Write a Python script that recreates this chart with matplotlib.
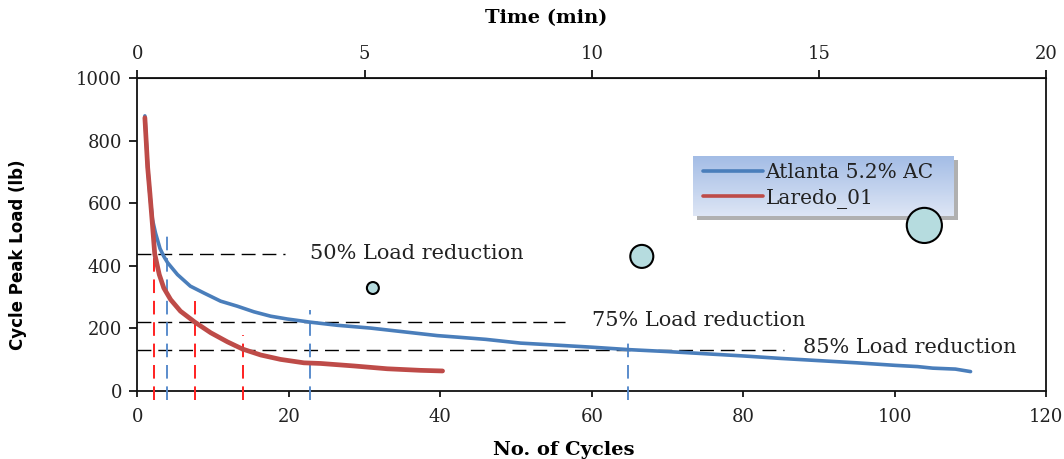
import matplotlib
matplotlib.use("Agg")
import matplotlib.pyplot as plt
import numpy as np

# ---------------- data ----------------
cyc_atl = [1.0, 1.37, 1.68, 2.0, 2.4, 3.0, 3.5, 4.0, 5.3, 7.0, 8.8, 11.0, 13.2,
           15.4, 17.6, 19.8, 22.8, 26.4, 30.8, 35.2, 39.6, 42.3, 46.0, 50.6,
           55.0, 60.0, 65.0, 70.0, 75.0, 80.0, 85.0, 90.0, 95.0, 100.0, 103.0,
           105.0, 108.0, 110.0]
load_atl = [879, 716, 622, 548, 505, 455, 430, 410, 372, 335, 313, 287, 271,
            253, 239, 230, 220, 210, 201, 189, 177, 172, 165, 153,
            147, 140, 132, 126, 119, 112, 104, 97, 90, 82, 78,
            73, 70, 62]

cyc_lar = [1.0, 1.37, 1.67, 2.0, 2.3, 2.9, 3.5, 4.4, 5.7, 7.6, 9.7, 11.9, 13.9,
           16.3, 18.9, 22.0, 24.2, 28.6, 33.0, 37.4, 40.3]
load_lar = [873, 714, 630, 531, 438, 372, 329, 292, 255, 220, 186, 157, 134,
            115, 101, 90, 88, 80, 71, 66, 64]

# reference (load-reduction) levels
ref_levels = [437, 219, 132]
ref_ends = [19.5, 56.5, 85.4]
ref_labels = ["50% Load reduction", "75% Load reduction", "85% Load reduction"]
ref_label_x = [22.8, 60.0, 87.9]
ref_label_y = [440, 224, 138]

# vertical markers (cycle at which reduction is reached)
vline_x = [2.2, 3.9, 7.6, 13.9, 22.8, 64.8]
vline_top = [522, 515, 289, 178, 260, 169]
vline_series = ["lar", "atl", "lar", "lar", "atl", "atl"]

# bubbles
bub_x = [31.1, 66.6, 103.9]
bub_y = [329, 430, 529]
bub_size = [74, 275, 640]

x_ticks = [0, 20, 40, 60, 80, 100, 120]
y_ticks = [0, 200, 400, 600, 800, 1000]
t_ticks = [0, 5, 10, 15, 20]

# ---------------- style ----------------
BLUE = "#4a7ebb"
RED = "#be4b48"
VRED = "#ff2020"
VBLUE = "#5a8ccc"
SERIF = "DejaVu Serif"
TXT = "#222222"

W, H = 1064, 459
fig = plt.figure(figsize=(W / 100, H / 100), dpi=100, facecolor="white")

# legend background (gradient box with shadow), drawn beneath the main axes
lx0, lx1, ly0, ly1 = 693, 954, 156, 216
sh = fig.add_axes([(lx0 + 4) / W, 1 - (ly1 + 4) / H, (lx1 - lx0) / W,
                   (ly1 - ly0) / H], zorder=-2)
sh.set_facecolor("#b0b0b0")
sh.set_xticks([])
sh.set_yticks([])
for sp in sh.spines.values():
    sp.set_visible(False)

lax = fig.add_axes([lx0 / W, 1 - ly1 / H, (lx1 - lx0) / W, (ly1 - ly0) / H],
                   zorder=-1)
top = np.array([0.64, 0.74, 0.90])
bot = np.array([0.87, 0.90, 0.96])
g = np.linspace(0, 1, 64)[:, None]
grad = top[None, :] * (1 - g) + bot[None, :] * g
lax.imshow(grad[:, None, :].repeat(2, axis=1), aspect="auto",
           extent=[0, 1, 0, 1], origin="upper")
lax.set_axis_off()

ax_l, ax_r, ax_b, ax_t = 137.3, 1046.3, 391, 78
ax = fig.add_axes([ax_l / W, (H - ax_b) / H, (ax_r - ax_l) / W, (ax_b - ax_t) / H],
                  zorder=0)
ax.set_facecolor("none")

ax.set_xlim(0, 120)
ax.set_ylim(0, 1000)

# reference lines
for lv, xe in zip(ref_levels, ref_ends):
    ax.plot([0, xe], [lv, lv], color="black", lw=1.0, dashes=(10, 5), zorder=2)
for lab, lx, ly in zip(ref_labels, ref_label_x, ref_label_y):
    ax.text(lx, ly, lab, fontsize=15, family=SERIF, color=TXT,
            va="center", ha="left", zorder=3)

# vertical markers
for vx, vt, s in zip(vline_x, vline_top, vline_series):
    c = VRED if s == "lar" else VBLUE
    ax.plot([vx, vx], [-30, vt], color=c, lw=1.4, dashes=(7, 4), zorder=4,
            clip_on=False)

l1, = ax.plot(cyc_atl, load_atl, color=BLUE, lw=2.6, zorder=5,
              solid_capstyle="round", solid_joinstyle="round",
              label="Atlanta 5.2% AC")
l2, = ax.plot(cyc_lar, load_lar, color=RED, lw=3.4, zorder=6,
              solid_capstyle="round", solid_joinstyle="round", label="Laredo_01")

ax.scatter(bub_x, bub_y, s=bub_size, facecolor="#b6dcdf", edgecolor="black",
           linewidth=1.5, zorder=7, clip_on=False)

# ticks
ax.set_xticks(x_ticks)
ax.set_yticks(y_ticks)
ax.tick_params(axis="y", direction="out", length=6, width=1.2, pad=5,
               labelsize=13, labelcolor=TXT)
ax.tick_params(axis="x", direction="out", length=4, width=1.2, pad=8,
               labelsize=13, labelcolor=TXT)
for lab in ax.get_xticklabels() + ax.get_yticklabels():
    lab.set_family(SERIF)
for sp in ax.spines.values():
    sp.set_linewidth(1.3)
    sp.set_color("#111111")

sec = ax.secondary_xaxis("top", functions=(lambda c: np.asarray(c) / 6.0,
                                           lambda t: np.asarray(t) * 6.0))
sec.set_xticks(t_ticks)
sec.tick_params(direction="out", length=6, width=1.2, pad=5, labelsize=13,
                labelcolor=TXT)
for lab in sec.get_xticklabels():
    lab.set_family(SERIF)

# axis titles
fig.text(546 / W, 1 - 18 / H, "Time (min)", family=SERIF, fontweight="bold",
         fontsize=14, ha="center", va="center")
fig.text(564 / W, 1 - 450 / H, "No. of Cycles", family=SERIF, fontweight="bold",
         fontsize=14, ha="center", va="center")
fig.text(18 / W, 1 - 255 / H, "Cycle Peak Load (lb)",
         family=["Liberation Sans Narrow", "DejaVu Sans"], fontweight="bold",
         fontsize=12, rotation=90, ha="center", va="center")

# legend entries placed over the gradient box
leg = ax.legend([l1, l2], ["Atlanta 5.2% AC", "Laredo_01"], loc="center left",
                bbox_to_anchor=(lx0 / W, 1 - (ly0 + ly1) / 2 / H),
                bbox_transform=fig.transFigure, frameon=False,
                handlelength=3.0, handletextpad=0.1, borderaxespad=0.0,
                borderpad=0.5, labelspacing=0.3,
                prop={"family": SERIF, "size": 14.5})
for h in leg.get_lines():
    h.set_linewidth(2.6)
for t in leg.get_texts():
    t.set_color(TXT)

fig.savefig("out.png", dpi=100, facecolor="white")
